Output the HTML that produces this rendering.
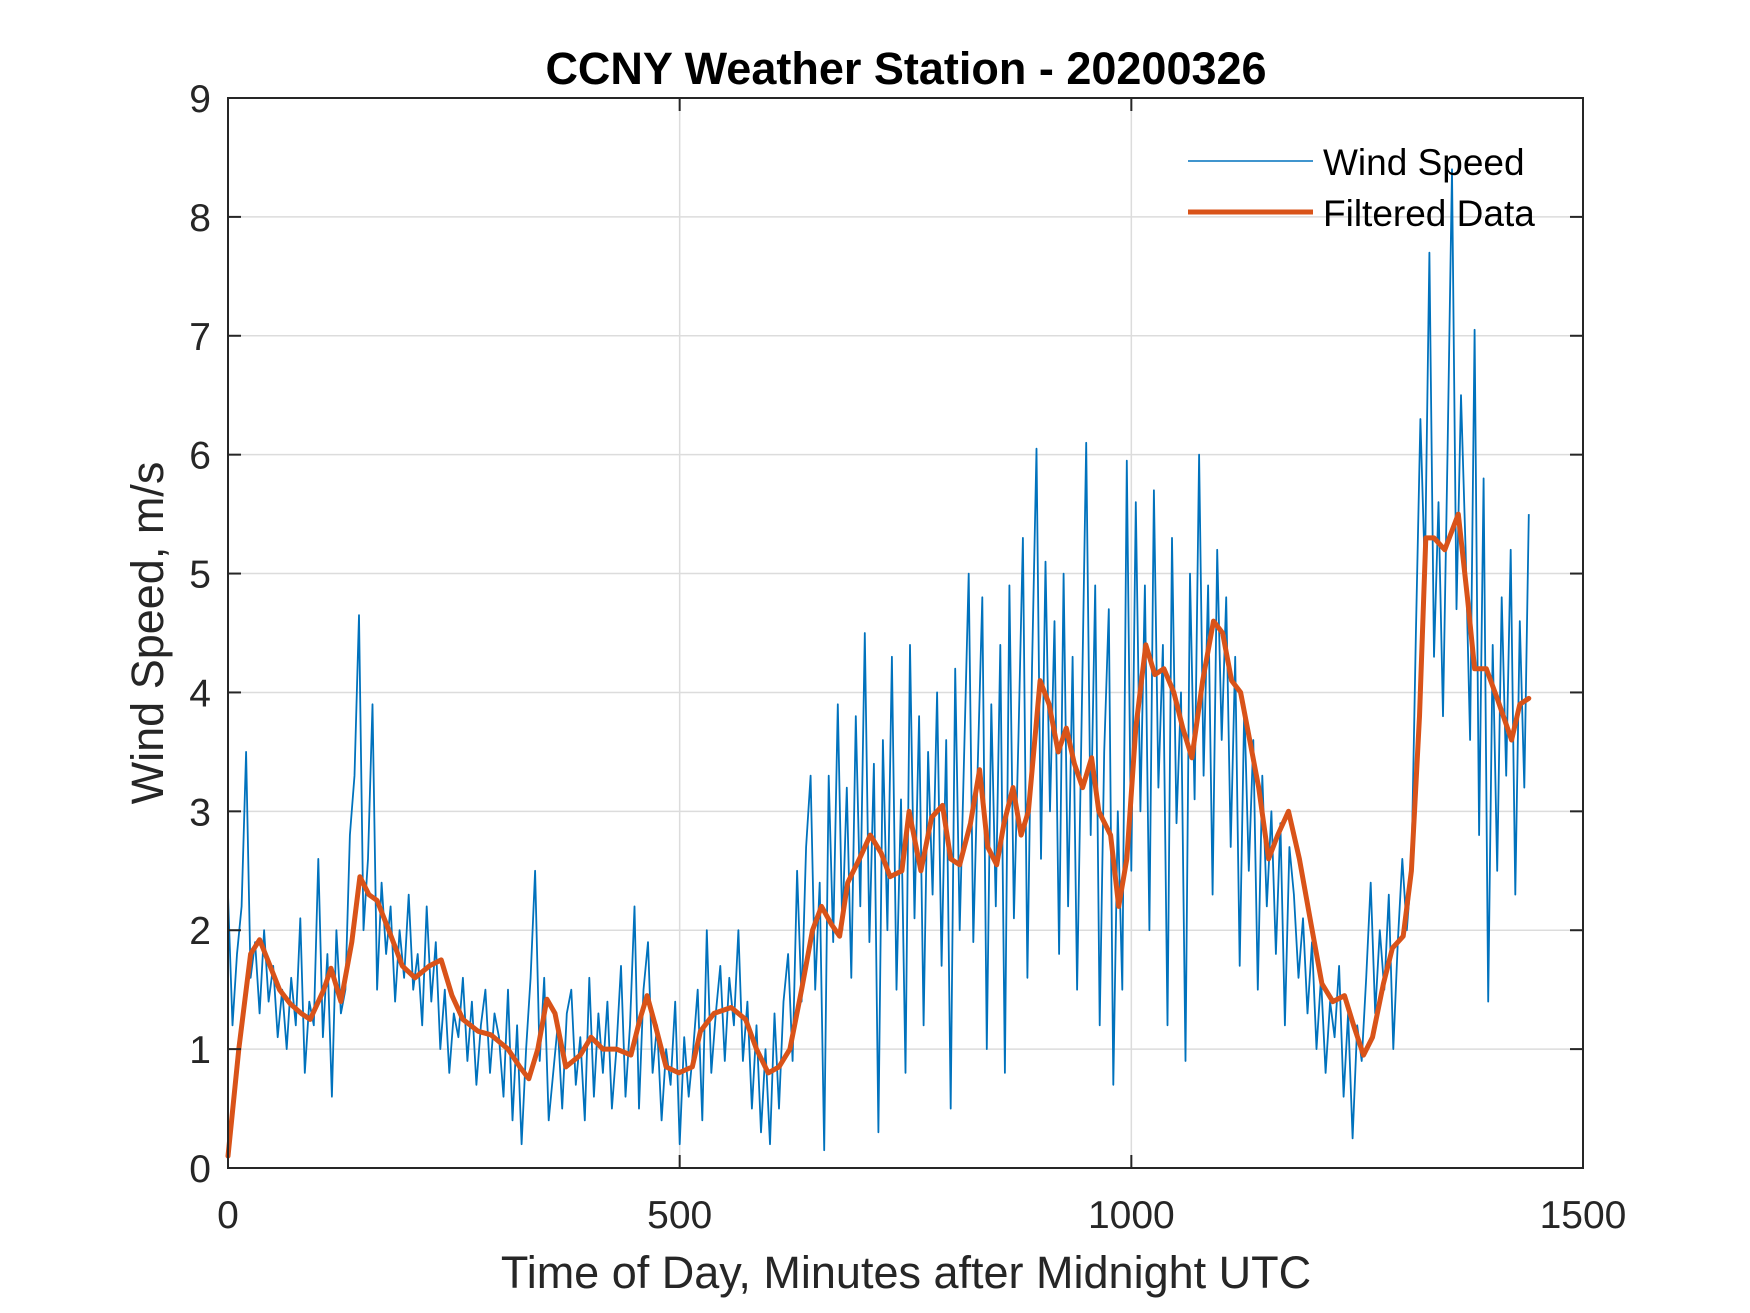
<!DOCTYPE html>
<html><head><meta charset="utf-8"><style>
html,body{margin:0;padding:0;background:#fff;}
svg{display:block;font-family:"Liberation Sans",Arial,sans-serif;}
</style></head><body>
<svg id="chart" width="1750" height="1313" viewBox="0 0 1750 1313" xmlns="http://www.w3.org/2000/svg">
<rect width="1750" height="1313" fill="#fff"/>
<g id="grid"></g>
<g id="series"></g>
<rect x="228" y="98" width="1355" height="1070" fill="none" stroke="#262626" stroke-width="2"/>
<g id="ticks"></g>
<text x="906" y="84" text-anchor="middle" font-size="45" font-weight="bold" fill="#000">CCNY Weather Station - 20200326</text>
<text x="906" y="1288" text-anchor="middle" font-size="45" fill="#262626">Time of Day, Minutes after Midnight UTC</text>
<text transform="translate(163,633) rotate(-90)" text-anchor="middle" font-size="45" fill="#262626">Wind Speed, m/s</text>
<g>
<line x1="1188" y1="161" x2="1313" y2="161" stroke="#0072BD" stroke-width="1.5"/>
<text x="1323" y="175" font-size="37" fill="#000">Wind Speed</text>
<line x1="1188" y1="212" x2="1313" y2="212" stroke="#D95319" stroke-width="5"/>
<text x="1323" y="226" font-size="37" fill="#000">Filtered Data</text>
</g>
</svg>
<script>
const xTicks=[0,500,1000,1500];
const yTicks=[0,1,2,3,4,5,6,7,8,9];
const rawStep=5;
const rawV=[2.3,1.2,1.8,2.2,3.5,1.6,1.9,1.3,2.0,1.4,1.7,1.1,1.5,1.0,1.6,1.2,2.1,0.8,1.4,1.2,
2.6,1.1,1.8,0.6,2.0,1.3,1.5,2.8,3.3,4.65,2.0,2.6,3.9,1.5,2.4,1.8,2.2,1.4,2.0,1.6,
2.3,1.5,1.8,1.2,2.2,1.4,1.9,1.0,1.5,0.8,1.3,1.1,1.6,0.9,1.4,0.7,1.2,1.5,0.8,1.3,
1.1,0.6,1.5,0.4,1.2,0.2,1.0,1.6,2.5,0.9,1.6,0.4,0.8,1.2,0.5,1.3,1.5,0.7,1.1,0.4,
1.6,0.6,1.3,0.8,1.4,0.5,1.0,1.7,0.6,1.2,2.2,0.5,1.5,1.9,0.8,1.2,0.4,1.0,0.7,1.4,
0.2,1.1,0.6,1.0,1.5,0.4,2.0,0.8,1.3,1.7,0.9,1.6,1.2,2.0,0.9,1.4,0.5,1.2,0.3,1.0,
0.2,1.3,0.5,1.4,1.8,0.9,2.5,1.4,2.7,3.3,1.5,2.4,0.15,3.3,1.9,3.9,2.0,3.2,1.6,3.8,
2.2,4.5,1.9,3.4,0.3,3.6,2.0,4.3,1.5,3.1,0.8,4.4,2.1,3.8,1.2,3.5,2.3,4.0,1.7,3.6,
0.5,4.2,2.0,3.5,5.0,1.9,3.4,4.8,1.0,3.9,2.2,4.4,0.8,4.9,2.1,3.6,5.3,1.6,4.2,6.05,
2.6,5.1,3.0,4.6,1.8,5.0,2.2,4.3,1.5,3.8,6.1,2.8,4.9,1.2,3.5,4.7,0.7,3.0,1.5,5.95,
2.5,5.6,3.0,4.9,2.0,5.7,3.2,4.4,1.2,5.3,2.9,4.0,0.9,5.0,3.1,6.0,3.3,4.9,2.3,5.2,
3.6,4.8,2.7,4.3,1.7,3.9,2.5,3.6,1.5,3.3,2.2,3.0,1.8,2.9,1.2,2.7,2.3,1.6,2.1,1.3,
1.9,1.0,1.6,0.8,1.4,1.1,1.7,0.6,1.3,0.25,1.2,0.9,1.6,2.4,1.3,2.0,1.5,2.3,1.0,1.9,
2.6,2.0,2.5,4.5,6.3,5.0,7.7,4.3,5.6,3.8,6.0,8.4,4.7,6.5,5.2,3.6,7.05,2.8,5.8,1.4,
4.4,2.5,4.8,3.3,5.2,2.3,4.6,3.2,5.5];
const filtT=[0,12,25,35,44,57,69,81,91,106,114,125,137,146,156,165,178,193,207,223,236,248,260,277,291,310,323,333,343,353,362,374,390,402,415,430,446,456,464,473,485,499,514,523,538,557,573,585,598,610,622,635,647,657,668,677,686,699,711,723,733,746,754,767,779,791,800,810,822,832,841,851,859,869,878,886,899,909,919,928,937,946,956,964,977,986,995,1005,1016,1026,1036,1047,1057,1067,1079,1091,1101,1111,1121,1131,1141,1152,1162,1174,1186,1199,1211,1223,1236,1246,1257,1267,1279,1289,1301,1310,1319,1326,1335,1347,1362,1372,1380,1393,1405,1421,1430,1440];
const filtV=[0.1,1.0,1.8,1.92,1.75,1.5,1.38,1.3,1.25,1.5,1.68,1.4,1.9,2.45,2.3,2.25,2.0,1.7,1.6,1.7,1.75,1.45,1.25,1.15,1.12,1.0,0.85,0.75,1.0,1.42,1.3,0.85,0.95,1.1,1.0,1.0,0.95,1.25,1.45,1.2,0.85,0.8,0.85,1.15,1.3,1.35,1.25,1.0,0.8,0.85,1.0,1.5,2.0,2.2,2.05,1.95,2.4,2.6,2.8,2.65,2.45,2.5,3.0,2.5,2.95,3.05,2.6,2.55,2.9,3.35,2.7,2.55,2.9,3.2,2.8,3.0,4.1,3.9,3.5,3.7,3.4,3.2,3.45,3.0,2.8,2.2,2.6,3.7,4.4,4.15,4.2,4.0,3.7,3.45,4.1,4.6,4.5,4.1,4.0,3.6,3.2,2.6,2.8,3.0,2.6,2.05,1.55,1.4,1.45,1.2,0.95,1.1,1.55,1.85,1.95,2.5,3.8,5.3,5.3,5.2,5.5,4.8,4.2,4.2,3.95,3.6,3.9,3.95];

const L=228,R=1583,T=98,B=1168,XMAX=1500,YMAX=9;
const xs=v=>L+v/XMAX*(R-L);
const ys=v=>B-v/YMAX*(B-T);
const NS='http://www.w3.org/2000/svg';
function mk(tag,attrs,parent){const e=document.createElementNS(NS,tag);for(const k in attrs)e.setAttribute(k,attrs[k]);parent.appendChild(e);return e;}
const grid=document.getElementById('grid'),ticks=document.getElementById('ticks'),series=document.getElementById('series');
xTicks.forEach(t=>{
  const x=xs(t);
  if(t>0&&t<XMAX){const g=mk('line',{x1:x,y1:T,x2:x,y2:B,stroke:'#dcdcdc','stroke-width':1.5},grid);
  
  }
  const a=mk('line',{x1:x,y1:B,x2:x,y2:B-13,stroke:'#262626','stroke-width':2},ticks);
  
  
  const b=mk('line',{x1:x,y1:T,x2:x,y2:T+13,stroke:'#262626','stroke-width':2},ticks);
  
  
  const tx=mk('text',{x:x,y:1228,'text-anchor':'middle','font-size':39,fill:'#262626'},ticks);
  tx.textContent=t;
  
  
});
yTicks.forEach(t=>{
  const y=ys(t);
  if(t>0&&t<YMAX){const g=mk('line',{x1:L,y1:y,x2:R,y2:y,stroke:'#dcdcdc','stroke-width':1.5},grid);
  
  }
  const a=mk('line',{x1:L,y1:y,x2:L+13,y2:y,stroke:'#262626','stroke-width':2},ticks);
  
  
  const b=mk('line',{x1:R,y1:y,x2:R-13,y2:y,stroke:'#262626','stroke-width':2},ticks);
  
  
  const tx=mk('text',{x:211,y:y+14,'text-anchor':'end','font-size':39,fill:'#262626'},ticks);
  tx.textContent=t;
  
  
});
const rawPts=rawV.map((v,i)=>xs(i*rawStep).toFixed(1)+','+ys(v).toFixed(1)).join(' ');
const raw=mk('polyline',{points:rawPts,fill:'none',stroke:'#0072BD','stroke-width':1.8,'stroke-linejoin':'round'},series);


const fPts=filtV.map((v,i)=>xs(filtT[i]).toFixed(1)+','+ys(v).toFixed(1)).join(' ');
const f=mk('polyline',{points:fPts,fill:'none',stroke:'#D95319','stroke-width':5,'stroke-linejoin':'round','stroke-linecap':'round'},series);


</script>
</body></html>
